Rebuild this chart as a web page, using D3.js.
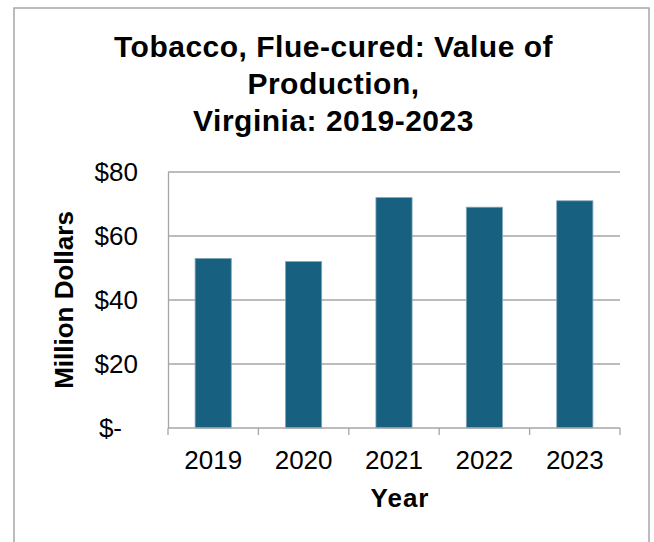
<!DOCTYPE html>
<html><head><meta charset="utf-8">
<script src="https://cdn.jsdelivr.net/npm/d3@7"></script>
<style>body{margin:0;background:#fff}svg{display:block}text{font-family:"Liberation Sans",Arial,sans-serif;fill:#000}</style>
</head><body><svg id="c" width="654" height="542"></svg>
<script>
const years = ["2019","2020","2021","2022","2023"];
const values = [53, 52, 72, 69, 71];
const yTicks = [0, 20, 40, 60, 80];
const titleLines = ["Tobacco, Flue-cured: Value of","Production,","Virginia: 2019-2023"];

const svg = d3.select("#c");
svg.append("rect").attr("x",14).attr("y",8).attr("width",635).attr("height",560)
  .attr("fill","#fff").attr("stroke","#a6a6a6").attr("stroke-width",1.5);

const L=168, R=620, T=172, B=428;
const x = d3.scaleBand().domain(years).range([L,R]).paddingInner(0.6).paddingOuter(0.3);
const y = d3.scaleLinear().domain([0,80]).range([B,T]);

// gridlines
svg.append("g").selectAll("line").data(yTicks.filter(d=>d>0)).join("line")
  .attr("x1",L).attr("x2",R).attr("y1",d=>y(d)).attr("y2",d=>y(d))
  .attr("stroke","#a6a6a6").attr("stroke-width",1.3);

// bars
svg.append("g").selectAll("rect").data(values).join("rect")
  .attr("x",(d,i)=>x(years[i])).attr("width",x.bandwidth())
  .attr("y",d=>y(d)).attr("height",d=>B-y(d))
  .attr("fill","#17607f").attr("stroke","#7fa6ba").attr("stroke-width",0.8);

// y axis
const ya = svg.append("g").attr("transform",`translate(${L},0)`)
  .call(d3.axisLeft(y).tickValues(yTicks).tickSize(0).tickPadding(30)
    .tickFormat(d=>d===0?"$-":"$"+d));
ya.select(".domain").attr("stroke","#a6a6a6").attr("stroke-width",1.3);
ya.selectAll("text").attr("font-size",26).attr("font-family","Liberation Sans, Arial, sans-serif").attr("fill","#000");
ya.selectAll(".tick").filter(d=>d===0).select("text").attr("dx",-16);

// x axis
const xb = d3.scaleLinear().domain([0,5]).range([L,R]);
const xa = svg.append("g").attr("transform",`translate(0,${B})`)
  .call(d3.axisBottom(x).tickSize(0).tickPadding(22.5));
xa.select(".domain").remove();
xa.selectAll("text").attr("font-size",26).attr("font-family","Liberation Sans, Arial, sans-serif").attr("fill","#000");
svg.append("line").attr("x1",L).attr("x2",R).attr("y1",B).attr("y2",B).attr("stroke","#a6a6a6").attr("stroke-width",1.3);
svg.append("g").selectAll("line").data(d3.range(6)).join("line")
  .attr("x1",d=>xb(d)).attr("x2",d=>xb(d)).attr("y1",B).attr("y2",B+7)
  .attr("stroke","#a6a6a6").attr("stroke-width",1.3);

// titles
svg.append("g").selectAll("text").data(titleLines).join("text")
  .attr("x",333.5).attr("y",(d,i)=>57+i*37).attr("text-anchor","middle")
  .attr("font-size",30).attr("letter-spacing",0.5).attr("font-weight","bold").text(d=>d);
svg.append("text").attr("x",400).attr("y",507).attr("text-anchor","middle")
  .attr("font-size",26).attr("letter-spacing",1).attr("font-weight","bold").text("Year");
svg.append("text").attr("transform","translate(73,300) rotate(-90)").attr("text-anchor","middle")
  .attr("font-size",26).attr("font-weight","bold").text("Million Dollars");
</script></body></html>
